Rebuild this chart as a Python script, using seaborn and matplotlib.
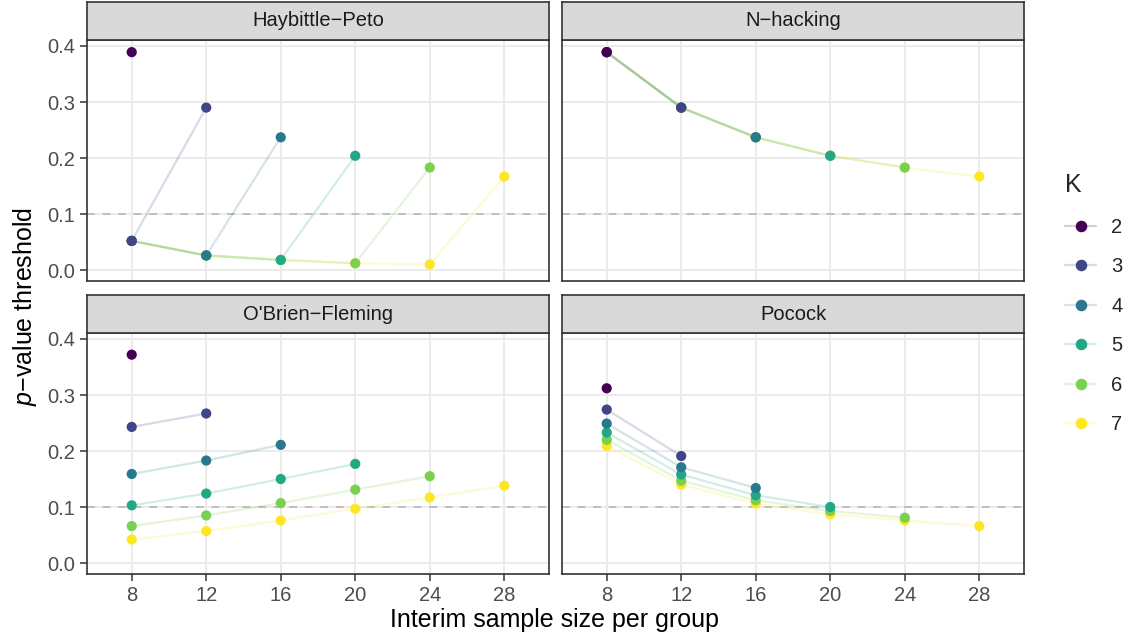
import pandas as pd
import matplotlib.pyplot as plt
from matplotlib.lines import Line2D
import seaborn as sns

# ---------------------------------------------------------------------------
# Data (p-value thresholds per look; looks at n = 8, 12, ... up to K-1 looks)
# ---------------------------------------------------------------------------

interim_n = [8, 12, 16, 20, 24, 28]
k_levels = [2, 3, 4, 5, 6, 7]
methods = ['Haybittle\u2212Peto', 'N\u2212hacking', "O'Brien\u2212Fleming", 'Pocock']

haybittle_peto = [
    [0.389],
    [0.052, 0.290],
    [0.052, 0.026, 0.237],
    [0.052, 0.026, 0.018, 0.204],
    [0.052, 0.026, 0.018, 0.012, 0.183],
    [0.052, 0.026, 0.018, 0.012, 0.010, 0.167],
]
n_hacking = [
    [0.389],
    [0.389, 0.290],
    [0.389, 0.290, 0.237],
    [0.389, 0.290, 0.237, 0.204],
    [0.389, 0.290, 0.237, 0.204, 0.183],
    [0.389, 0.290, 0.237, 0.204, 0.183, 0.167],
]
obrien_fleming = [
    [0.372],
    [0.243, 0.267],
    [0.159, 0.183, 0.211],
    [0.103, 0.124, 0.150, 0.177],
    [0.066, 0.085, 0.107, 0.131, 0.155],
    [0.042, 0.057, 0.076, 0.097, 0.117, 0.138],
]
pocock = [
    [0.312],
    [0.274, 0.191],
    [0.249, 0.171, 0.134],
    [0.233, 0.158, 0.121, 0.100],
    [0.220, 0.147, 0.112, 0.093, 0.081],
    [0.209, 0.140, 0.106, 0.087, 0.076, 0.066],
]

alpha_ref = 0.1
viridis6 = ['#440154', '#414487', '#2A788E', '#22A884', '#7AD151', '#FDE725']

rows = []
for method, table in zip(methods, [haybittle_peto, n_hacking, obrien_fleming, pocock]):
    for k, vals in zip(k_levels, table):
        for n, p in zip(interim_n, vals):
            rows.append({'method': method, 'K': k, 'n': n, 'p': p})
df = pd.DataFrame(rows)

# ---------------------------------------------------------------------------
# Style
# ---------------------------------------------------------------------------

sns.set_theme(style='white')
plt.rcParams['font.family'] = ['Liberation Sans', 'DejaVu Sans']
plt.rcParams['mathtext.fontset'] = 'custom'
plt.rcParams['mathtext.rm'] = 'Liberation Sans'
plt.rcParams['mathtext.it'] = 'Liberation Sans:italic'

SMALL = 14.5
BIG = 18

W, H = 1136, 641
fig = plt.figure(figsize=(W / 100, H / 100), dpi=100)
palette = dict(zip(k_levels, viridis6))


def box(x0, y0, x1, y1):
    return [x0 / W, 1 - y1 / H, (x1 - x0) / W, (y1 - y0) / H]


panels = [(87, 40, 549, 281), (562, 40, 1024, 281),
          (87, 333, 549, 574), (562, 333, 1024, 574)]
strip_h = 38

for i, (method, (x0, y0, x1, y1)) in enumerate(zip(methods, panels)):
    ax = fig.add_axes(box(x0, y0, x1, y1))
    sub = df[df['method'] == method]

    for y in [0, 0.1, 0.2, 0.3, 0.4]:
        ax.axhline(y, color='#EBEBEB', lw=1.4, zorder=0)
    for n in interim_n:
        ax.axvline(n, color='#EBEBEB', lw=1.4, zorder=0)
    ax.axhline(alpha_ref, color='#BEBEBE', lw=1.4, dashes=(4, 4), zorder=1)

    sns.lineplot(data=sub, x='n', y='p', hue='K', palette=palette, alpha=0.2,
                 lw=1.6, errorbar=None, legend=False, ax=ax, zorder=2)
    sns.scatterplot(data=sub.sort_values('K', ascending=False), x='n', y='p', hue='K',
                    palette=palette, s=54, linewidth=0, legend=False, ax=ax, zorder=3)

    ax.set_xlim(5.6, 30.4)
    ax.set_ylim(-0.0196, 0.4107)
    ax.set_xticks(interim_n)
    ax.set_xticklabels([str(n) for n in interim_n])
    ax.set_yticks([0, 0.1, 0.2, 0.3, 0.4])
    ax.set_yticklabels(['0.0', '0.1', '0.2', '0.3', '0.4'])
    ax.set_xlabel('')
    ax.set_ylabel('')
    ax.grid(False)
    for sp in ax.spines.values():
        sp.set_color('#333333')
        sp.set_linewidth(1.2)
    ax.tick_params(length=4.8, width=1.1, color='#333333', labelcolor='#4D4D4D',
                   labelsize=SMALL, pad=3.8, bottom=i >= 2, labelbottom=i >= 2,
                   left=i % 2 == 0, labelleft=i % 2 == 0)

    # facet strip
    sax = fig.add_axes(box(x0, y0 - strip_h, x1, y0))
    sax.set_facecolor('#D9D9D9')
    sax.set_xticks([])
    sax.set_yticks([])
    for sp in sax.spines.values():
        sp.set_color('#333333')
        sp.set_linewidth(1.2)
    sax.text(0.5, 0.5, method, ha='center', va='center', fontsize=SMALL,
             color='#1A1A1A', transform=sax.transAxes)

fig.text(555 / W, 1 - 620 / H, 'Interim sample size per group', ha='center', va='center',
         fontsize=BIG, color='black')
fig.text(25 / W, 1 - 307 / H, '$p$\u2212value threshold', ha='center', va='center',
         rotation=90, fontsize=BIG, color='black')

handles = [(Line2D([], [], color=c, lw=1.6, alpha=0.2),
            Line2D([], [], color=c, marker='o', markersize=7.3, lw=0))
           for c in viridis6]
leg = fig.legend(handles, [str(k) for k in k_levels], title='K', loc='upper left',
                 bbox_to_anchor=(1047 / W, 1 - 155 / H), frameon=False, fontsize=SMALL,
                 title_fontsize=BIG, labelspacing=1.02, handlelength=1.55, handletextpad=0.75)
leg._legend_box.align = 'left'

fig.savefig('out.png', dpi=100)
